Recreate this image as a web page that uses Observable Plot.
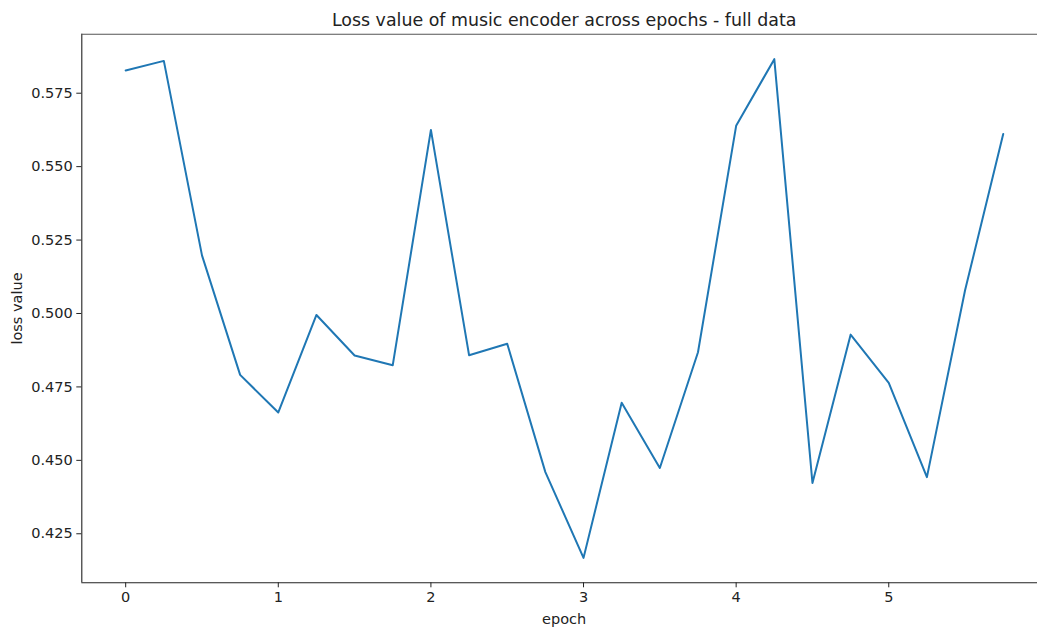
<!DOCTYPE html>
<html><head><meta charset="utf-8">
<script src="https://cdn.jsdelivr.net/npm/d3@7"></script>
<script src="https://cdn.jsdelivr.net/npm/@observablehq/plot@0.6"></script>
<style>body{margin:0;background:#fff;} svg{display:block;}</style>
</head><body><div id="chart"></div>
<script>
const epochs = [0, 0.25, 0.5, 0.75, 1, 1.25, 1.5, 1.75, 2, 2.25, 2.5, 2.75, 3, 3.25, 3.5, 3.75, 4, 4.25, 4.5, 4.75, 5, 5.25, 5.5, 5.75];
const lossValues = [0.5827, 0.5860, 0.5198, 0.4791, 0.4663, 0.4995, 0.4857, 0.4824, 0.5625, 0.4858, 0.4897, 0.4460, 0.4168, 0.4696, 0.4474, 0.4868, 0.5639, 0.5866, 0.4423, 0.4928, 0.4764, 0.4443, 0.5079, 0.5611];
const xTicks = [0, 1, 2, 3, 4, 5];
const yTicks = [0.425, 0.45, 0.475, 0.5, 0.525, 0.55, 0.575];
const titleText = "Loss value of music encoder across epochs - full data";
const xLabel = "epoch";
const yLabel = "loss value";

const data = epochs.map((e, i) => ({epoch: e, loss: lossValues[i]}));
const xMin = d3.min(epochs), xMax = d3.max(epochs), xPad = (xMax - xMin) * 0.05;
const yMin = d3.min(lossValues), yMax = d3.max(lossValues), yPad = (yMax - yMin) * 0.05;
const xDomain = [xMin - xPad, xMax + xPad];
const yDomain = [yMin - yPad, yMax + yPad];

const chart = Plot.plot({
  width: 1037, height: 627,
  marginLeft: 81.3, marginRight: 0, marginTop: 33.7, marginBottom: 44.7,
  style: {fontFamily: "DejaVu Sans", fontSize: "14.5px", color: "#222", background: "#fff"},
  x: {domain: xDomain, range: [81.3, 1046.6]},
  y: {domain: yDomain},
  marks: [
    Plot.axisX(xTicks, {tickSize: 5, tickPadding: 4, tickFormat: "d", label: null, stroke: "#222"}),
    Plot.axisY(yTicks, {tickSize: 5, tickPadding: 4, tickFormat: ".3f", label: null, stroke: "#222"}),
    Plot.ruleX([xDomain[0]], {stroke: "#222", strokeWidth: 1.1}),
    Plot.ruleY([yDomain[0]], {stroke: "#222", strokeWidth: 1.1}),
    Plot.ruleY([yDomain[1]], {stroke: "#555", strokeWidth: 1.1}),
    Plot.lineY(data, {x: "epoch", y: "loss", stroke: "#1f77b4", strokeWidth: 2}),
    Plot.text([titleText], {frameAnchor: "top", dx: 4.5, dy: -8, lineAnchor: "bottom", fontSize: 17.4, fill: "#222"}),
    Plot.text([xLabel], {frameAnchor: "bottom", dx: 4.5, dy: 31, lineAnchor: "top", fill: "#222"}),
    Plot.text([yLabel], {frameAnchor: "left", dx: -64.3, rotate: -90, textAnchor: "middle", lineAnchor: "middle", fill: "#222"})
  ]
});
document.getElementById("chart").appendChild(chart);
</script>
</body></html>
